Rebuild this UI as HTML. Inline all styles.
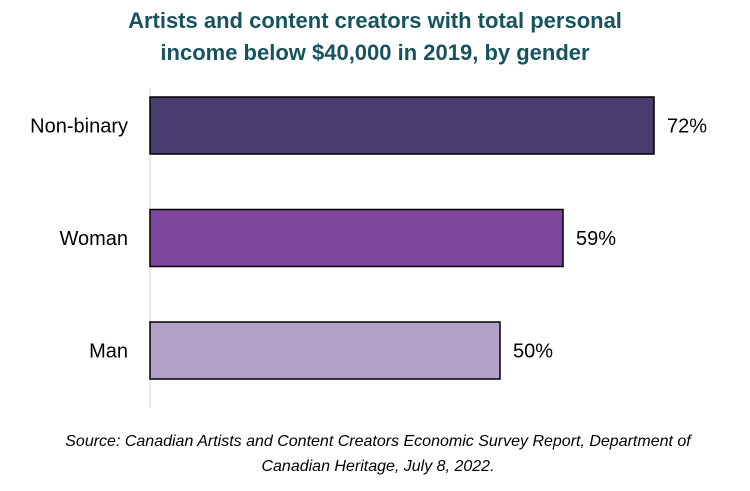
<!DOCTYPE html>
<html><head><meta charset="utf-8"><style>
body{margin:0;background:#fff;}
svg{display:block;font-family:"Liberation Sans",sans-serif;}
</style></head><body>
<svg id="chart" width="750" height="491" viewBox="0 0 750 491">
<text x="375" y="28" text-anchor="middle" font-size="22" font-weight="bold" fill="#17535f">Artists and content creators with total personal</text>
<text x="375" y="60" text-anchor="middle" font-size="22" font-weight="bold" fill="#17535f">income below $40,000 in 2019, by gender</text>
<line x1="150" y1="88" x2="150" y2="408" stroke="#d0d0d8" stroke-width="1"/>
<g id="bars"></g>
<text x="378" y="446" text-anchor="middle" font-size="16" font-style="italic" fill="#000">Source: Canadian Artists and Content Creators Economic Survey Report, Department of</text>
<text x="378" y="471" text-anchor="middle" font-size="16" font-style="italic" fill="#000">Canadian Heritage, July 8, 2022.</text>
</svg>
<script>
const categories = ["Non-binary","Woman","Man"];
const values = [72,59,50];
const colors = ["#483d6e","#7f479b","#b3a2c8"];
const x0 = 150, pxPer = 7.0, top0 = 97, step = 112.5, barH = 57;
const xScale = v => x0 + v * pxPer;
const g = document.getElementById('bars');
const ns = "http://www.w3.org/2000/svg";
categories.forEach((c,i)=>{
  const y = top0 + i*step;
  const r = document.createElementNS(ns,'rect');
  
  
  r.setAttribute('x', x0); r.setAttribute('y', y);
  r.setAttribute('width', xScale(values[i]) - x0); r.setAttribute('height', barH);
  r.setAttribute('fill', colors[i]); r.setAttribute('stroke', '#000'); r.setAttribute('stroke-width', '1.5');
  g.appendChild(r);
  const l = document.createElementNS(ns,'text');
  
  
  l.setAttribute('x', 128); l.setAttribute('y', y + barH/2 + 7);
  l.setAttribute('text-anchor','end'); l.setAttribute('font-size','20');
  l.textContent = c; g.appendChild(l);
  const v = document.createElementNS(ns,'text');
  
  
  v.setAttribute('x', xScale(values[i]) + 13); v.setAttribute('y', y + barH/2 + 7);
  v.setAttribute('font-size','20');
  v.textContent = values[i] + '%'; g.appendChild(v);
});
</script>
</body></html>
